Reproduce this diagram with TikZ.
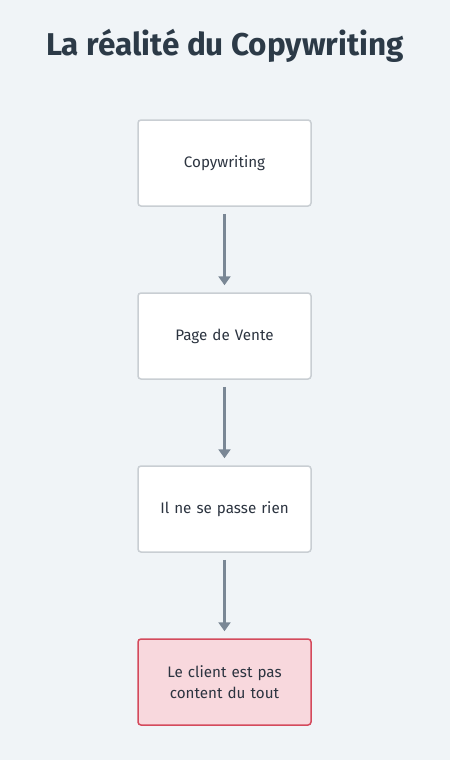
\documentclass[tikz,border=0pt]{standalone}
\usepackage{fontspec}
\setmainfont{Fira Sans}
\usetikzlibrary{arrows.meta}
\definecolor{bg}{HTML}{F0F4F7}
\definecolor{titlec}{HTML}{2C3A47}
\definecolor{boxborder}{HTML}{C9CED3}
\definecolor{arrowc}{HTML}{7A8795}
\definecolor{redfill}{HTML}{F8D8DD}
\definecolor{redborder}{HTML}{D44A5C}
\definecolor{textc}{HTML}{2C3440}
\tikzset{
  stepbox/.style={draw=boxborder, line width=1.5pt, fill=white, rounded corners=3pt,
    minimum width=173pt, minimum height=86pt, text width=150pt, align=center,
    font=\fontsize{15.2}{21}\selectfont, text=textc},
  badbox/.style={stepbox, draw=redborder, fill=redfill},
  flow/.style={draw=arrowc, line width=3pt, -{Triangle[length=9pt,width=12pt]}, shorten <=7pt, shorten >=7pt}
}
\begin{document}
\begin{tikzpicture}[x=1pt,y=-1pt]
\fill[bg] (0,0) rectangle (450,760);
\useasboundingbox (0,0) rectangle (450,760);
\node[font=\bfseries\fontsize{31.5}{36}\selectfont, text=titlec] (title) at (225,46) {La réalité du Copywriting};
\node[stepbox] (a) at (224.5,163) {Copywriting};
\node[stepbox] (b) at (224.5,336) {Page de Vente};
\node[stepbox] (c) at (224.5,509) {Il ne se passe rien};
\node[badbox] (d) at (224.5,682) {Le client est pas\\ content du tout};
\draw[flow] (a) -- (b);
\draw[flow] (b) -- (c);
\draw[flow] (c) -- (d);
\end{tikzpicture}
\end{document}
